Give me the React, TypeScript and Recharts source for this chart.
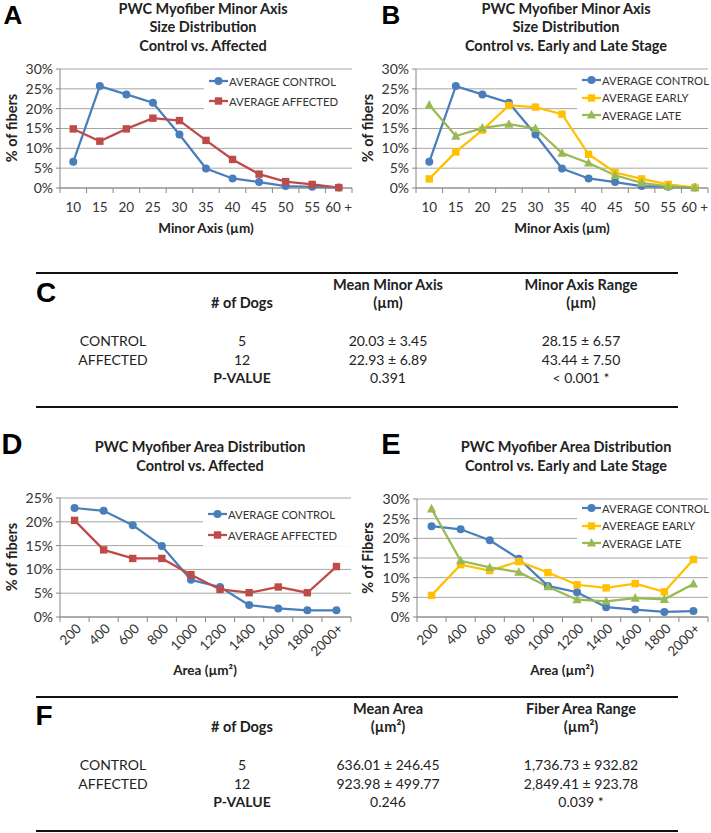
import React from "react";
import { CartesianGrid, Line, LineChart, XAxis, YAxis } from "recharts";

// ---- data (percent of fibers per bin) ----
const minorCats = ["10", "15", "20", "25", "30", "35", "40", "45", "50", "55", "60 +"];
const minorControl = [6.6, 25.7, 23.6, 21.5, 13.5, 4.9, 2.4, 1.5, 0.5, 0.3, 0.1];
const minorAffected = [14.9, 11.8, 14.9, 17.6, 17.0, 12.0, 7.2, 3.5, 1.6, 0.9, 0.1];
const minorEarly = [2.3, 9.1, 14.6, 20.8, 20.4, 18.6, 8.5, 3.9, 2.3, 0.9, 0.1];
const minorLate = [20.9, 13.1, 15.1, 16.1, 15.0, 8.8, 6.3, 3.2, 1.3, 0.4, 0.1];

const areaCats = ["200", "400", "600", "800", "1000", "1200", "1400", "1600", "1800", "2000+"];
const areaControlD = [22.9, 22.3, 19.3, 14.9, 7.8, 6.3, 2.5, 1.8, 1.4, 1.4];
const areaAffected = [20.3, 14.1, 12.3, 12.3, 8.9, 5.8, 5.1, 6.3, 5.1, 10.6];
const areaControlE = [23.1, 22.3, 19.5, 14.8, 7.9, 6.3, 2.5, 1.9, 1.3, 1.5];
const areaEarly = [5.5, 13.3, 11.8, 14.1, 11.3, 8.2, 7.4, 8.5, 6.4, 14.6];
const areaLate = [27.5, 14.3, 12.6, 11.4, 7.7, 4.4, 4.0, 4.8, 4.5, 8.4];

const ticks30 = [0, 5, 10, 15, 20, 25, 30];
const ticks25 = [0, 5, 10, 15, 20, 25];

// ---- tables ----
const rowLabels = ["CONTROL", "AFFECTED"];
const dogs = ["5", "12"];
const minorMean = ["20.03 ± 3.45", "22.93 ± 6.89"];
const minorRange = ["28.15 ± 6.57", "43.44 ± 7.50"];
const minorP = ["0.391", "< 0.001 *"];
const areaMean = ["636.01 ± 246.45", "923.98 ± 499.77"];
const areaRange = ["1,736.73 ± 932.82", "2,849.41 ± 923.78"];
const areaP = ["0.246", "0.039 *"];

const BLUE = "#4a7ebb";
const RED = "#be4b48";
const GOLD = "#ffc000";
const GREEN = "#98b954";
const GRID = "#a6a6a6";
const AXIS = "#868686";
const TEXT = "#333";
const FONT = "Lato, 'Open Sans', sans-serif";
const BIG = "'Liberation Sans', Arial, sans-serif";
const TITLE = 14.5;

type Shape = "circle" | "square" | "triangle";
type Series = { key: string; name: string; color: string; shape: Shape; values: number[] };

function Marker({ cx, cy, shape, color }: { cx: number; cy: number; shape: Shape; color: string }) {
  if (cx == null || cy == null) return null;
  if (shape === "circle") return <circle cx={cx} cy={cy} r={4} fill={color} />;
  if (shape === "square") return <rect x={cx - 3.7} y={cy - 3.7} width={7.4} height={7.4} fill={color} />;
  return <path d={`M${cx},${cy - 5} L${cx + 4.6},${cy + 3.6} L${cx - 4.6},${cy + 3.6} Z`} fill={color} />;
}

function XTick(props: any) {
  const { x, y, payload, index, band, count, rotate } = props;
  return (
    <g>
      <line x1={x - band / 2} x2={x - band / 2} y1={y} y2={y + 5} stroke={AXIS} />
      {index === count - 1 && <line x1={x + band / 2} x2={x + band / 2} y1={y} y2={y + 5} stroke={AXIS} />}
      {rotate ? (
        <text
          transform={`translate(${x + 5},${y + 10}) rotate(-45)`}
          textAnchor="end"
          dominantBaseline="middle"
          fontSize={13.5}
          fontFamily={FONT}
          fill={TEXT}
        >
          {payload.value}
        </text>
      ) : (
        <text x={x} y={y + 24} textAnchor="middle" fontSize={13.5} fontFamily={FONT} fill={TEXT}>
          {payload.value}
        </text>
      )}
    </g>
  );
}

function Chart(props: {
  x: number; y: number; w: number; h: number;
  plotLeft: number; plotTop: number; plotRight: number; plotBottom: number;
  cats: string[]; series: Series[]; yMax: number; yTicks: number[]; rotate?: boolean;
}) {
  const { x, y, w, h, plotLeft, plotTop, plotRight, plotBottom, cats, series, yMax, yTicks, rotate } = props;
  const data = cats.map((c, i) => {
    const row: Record<string, any> = { cat: c };
    series.forEach((s) => (row[s.key] = s.values[i]));
    return row;
  });
  const band = (plotRight - plotLeft) / cats.length;
  const xAxisH = 30;
  const yAxisW = 50;
  const margin = {
    top: plotTop - y,
    right: x + w - plotRight,
    left: plotLeft - x - yAxisW,
    bottom: y + h - plotBottom - xAxisH,
  };
  return (
    <div style={{ position: "absolute", left: x, top: y }}>
      <LineChart width={w} height={h} data={data} margin={margin}>
        <CartesianGrid vertical={false} stroke={GRID} />
        <XAxis
          dataKey="cat"
          interval={0}
          padding={{ left: band / 2, right: band / 2 }}
          tickLine={false}
          tickSize={0}
          tickMargin={0}
          height={xAxisH}
          axisLine={{ stroke: AXIS }}
          tick={(p: any) => <XTick {...p} band={band} count={cats.length} rotate={rotate} />}
        />
        <YAxis
          domain={[0, yMax]}
          ticks={yTicks}
          interval={0}
          width={yAxisW}
          tickFormatter={(v: number) => `${v}%`}
          tick={{ fontSize: 14, fill: TEXT, fontFamily: FONT }}
          tickSize={4}
          tickMargin={3}
          axisLine={{ stroke: AXIS }}
          tickLine={{ stroke: AXIS }}
        />
        {series.map((s) => (
          <Line
            key={s.key}
            dataKey={s.key}
            name={s.name}
            stroke={s.color}
            strokeWidth={2.25}
            type="linear"
            isAnimationActive={false}
            dot={(d: any) => <Marker key={`${s.key}-${d.index}`} cx={d.cx} cy={d.cy} shape={s.shape} color={s.color} />}
            activeDot={false}
          />
        ))}
      </LineChart>
    </div>
  );
}

function LegendBox({ x, y, w, h, rows, items }: { x: number; y: number; w: number; h: number; rows: number[]; items: Series[] }) {
  return (
    <div style={{ position: "absolute", left: x, top: y, width: w, height: h, background: "#fff" }}>
      {items.map((s, i) => (
        <div
          key={s.key}
          style={{ position: "absolute", left: 5, top: rows[i] - y - 8, height: 16, display: "flex", alignItems: "center", whiteSpace: "nowrap" }}
        >
          <svg width={19} height={16}>
            <line x1={0} x2={19} y1={8} y2={8} stroke={s.color} strokeWidth={2.25} />
            <Marker cx={9.5} cy={8} shape={s.shape} color={s.color} />
          </svg>
          <span style={{ fontFamily: FONT, fontSize: 11.3, color: TEXT, marginLeft: 1 }}>{s.name}</span>
        </div>
      ))}
    </div>
  );
}

function T({ x, y, children, size = 14, bold = false, family = FONT, rotate = false, color = "#222" }: any) {
  return (
    <div
      style={{
        position: "absolute",
        left: x,
        top: y,
        transform: `translate(-50%, -50%)${rotate ? " rotate(-90deg)" : ""}`,
        fontFamily: family,
        fontSize: size,
        fontWeight: bold ? 700 : 400,
        color,
        whiteSpace: "nowrap",
        lineHeight: 1,
      }}
    >
      {children}
    </div>
  );
}

function Table({ top, headMean, headRange, unit, mean, range, pvals }: any) {
  const cols = [113, 242, 388, 581];
  const line = (y: number) => (
    <div style={{ position: "absolute", left: 36, top: y - 1.3, width: 642, height: 2.6, background: "#111" }} />
  );
  return (
    <>
      {line(top)}
      <T x={cols[2]} y={top + 12} bold size={14.5}>{headMean}</T>
      <T x={cols[2]} y={top + 30} bold size={14.5}>{unit}</T>
      <T x={cols[3]} y={top + 12} bold size={14.5}>{headRange}</T>
      <T x={cols[3]} y={top + 30} bold size={14.5}>{unit}</T>
      <T x={cols[1]} y={top + 30} bold size={14.5}># of Dogs</T>
      {rowLabels.map((r, i) => (
        <React.Fragment key={r}>
          <T x={cols[0]} y={top + 68 + i * 18.5}>{r}</T>
          <T x={cols[1]} y={top + 68 + i * 18.5}>{dogs[i]}</T>
          <T x={cols[2]} y={top + 68 + i * 18.5}>{mean[i]}</T>
          <T x={cols[3]} y={top + 68 + i * 18.5}>{range[i]}</T>
        </React.Fragment>
      ))}
      <T x={cols[1]} y={top + 105} bold>P-VALUE</T>
      <T x={cols[2]} y={top + 105}>{pvals[0]}</T>
      <T x={cols[3]} y={top + 105}>{pvals[1]}</T>
      {line(top + 134)}
    </>
  );
}

export default function App() {
  const seriesA: Series[] = [
    { key: "control", name: "AVERAGE CONTROL", color: BLUE, shape: "circle", values: minorControl },
    { key: "affected", name: "AVERAGE AFFECTED", color: RED, shape: "square", values: minorAffected },
  ];
  const seriesB: Series[] = [
    { key: "control", name: "AVERAGE CONTROL", color: BLUE, shape: "circle", values: minorControl },
    { key: "early", name: "AVERAGE EARLY", color: GOLD, shape: "square", values: minorEarly },
    { key: "late", name: "AVERAGE LATE", color: GREEN, shape: "triangle", values: minorLate },
  ];
  const seriesD: Series[] = [
    { key: "control", name: "AVERAGE CONTROL", color: BLUE, shape: "circle", values: areaControlD },
    { key: "affected", name: "AVERAGE AFFECTED", color: RED, shape: "square", values: areaAffected },
  ];
  const seriesE: Series[] = [
    { key: "control", name: "AVERAGE CONTROL", color: BLUE, shape: "circle", values: areaControlE },
    { key: "early", name: "AVEREAGE EARLY", color: GOLD, shape: "square", values: areaEarly },
    { key: "late", name: "AVERAGE LATE", color: GREEN, shape: "triangle", values: areaLate },
  ];

  return (
    <div style={{ position: "absolute", left: 0, top: 0, width: 711, height: 833, background: "#fff", overflow: "hidden" }}>
      {/* A */}
      <T x={13} y={15} size={26} bold family={BIG} color="#000">A</T>
      <T x={203} y={9} bold size={TITLE}>PWC Myofiber Minor Axis</T>
      <T x={203} y={27} bold size={TITLE}>Size Distribution</T>
      <T x={203} y={46} bold size={TITLE}>Control vs. Affected</T>
      <Chart x={0} y={40} w={355} h={200} plotLeft={60} plotTop={69} plotRight={352} plotBottom={188}
        cats={minorCats} series={seriesA} yMax={30} yTicks={ticks30} />
      <LegendBox x={204} y={71} w={148} h={41} rows={[81, 101]} items={seriesA} />
      <T x={12} y={128} bold rotate size={14.5}>% of fibers</T>
      <T x={206} y={229} bold size={13.5}>Minor Axis (µm)</T>

      {/* B */}
      <T x={391} y={15} size={26} bold family={BIG} color="#000">B</T>
      <T x={566} y={9} bold size={TITLE}>PWC Myofiber Minor Axis</T>
      <T x={566} y={27} bold size={TITLE}>Size Distribution</T>
      <T x={566} y={46} bold size={TITLE}>Control vs. Early and Late Stage</T>
      <Chart x={355} y={40} w={356} h={200} plotLeft={416} plotTop={69} plotRight={708} plotBottom={188}
        cats={minorCats} series={seriesB} yMax={30} yTicks={ticks30} />
      <LegendBox x={577} y={71} w={131} h={53} rows={[80, 97.5, 115]} items={seriesB} />
      <T x={368} y={128} bold rotate size={14.5}>% of fibers</T>
      <T x={562} y={229} bold size={13.5}>Minor Axis (µm)</T>

      {/* C */}
      <T x={46} y={293} size={28} bold family={BIG} color="#000">C</T>
      <Table top={273} headMean="Mean Minor Axis" headRange="Minor Axis Range" unit="(µm)"
        mean={minorMean} range={minorRange} pvals={minorP} />

      {/* D */}
      <T x={12} y={444} size={29} bold family={BIG} color="#000">D</T>
      <T x={200} y={447} bold size={TITLE}>PWC Myofiber Area Distribution</T>
      <T x={200} y={466} bold size={TITLE}>Control vs. Affected</T>
      <Chart x={0} y={480} w={355} h={180} plotLeft={60} plotTop={498} plotRight={351} plotBottom={617}
        cats={areaCats} series={seriesD} yMax={25} yTicks={ticks25} rotate />
      <LegendBox x={203} y={504} w={148} h={42} rows={[514, 535]} items={seriesD} />
      <T x={12} y={557} bold rotate size={14.5}>% of fibers</T>
      <T x={205} y={671} bold size={13.5}>Area (µm²)</T>

      {/* E */}
      <T x={391} y={444} size={29} bold family={BIG} color="#000">E</T>
      <T x={566} y={447} bold size={TITLE}>PWC Myofiber Area Distribution</T>
      <T x={566} y={466} bold size={TITLE}>Control vs. Early and Late Stage</T>
      <Chart x={355} y={480} w={356} h={180} plotLeft={417} plotTop={499} plotRight={708} plotBottom={617}
        cats={areaCats} series={seriesE} yMax={30} yTicks={ticks30} rotate />
      <LegendBox x={577} y={501} w={131} h={51} rows={[508, 525.5, 543]} items={seriesE} />
      <T x={368} y={558} bold rotate size={14.5}>% of Fibers</T>
      <T x={562} y={671} bold size={13.5}>Area (µm²)</T>

      {/* F */}
      <T x={44} y={716} size={28} bold family={BIG} color="#000">F</T>
      <Table top={697} headMean="Mean Area" headRange="Fiber Area Range" unit="(µm²)"
        mean={areaMean} range={areaRange} pvals={areaP} />
    </div>
  );
}
